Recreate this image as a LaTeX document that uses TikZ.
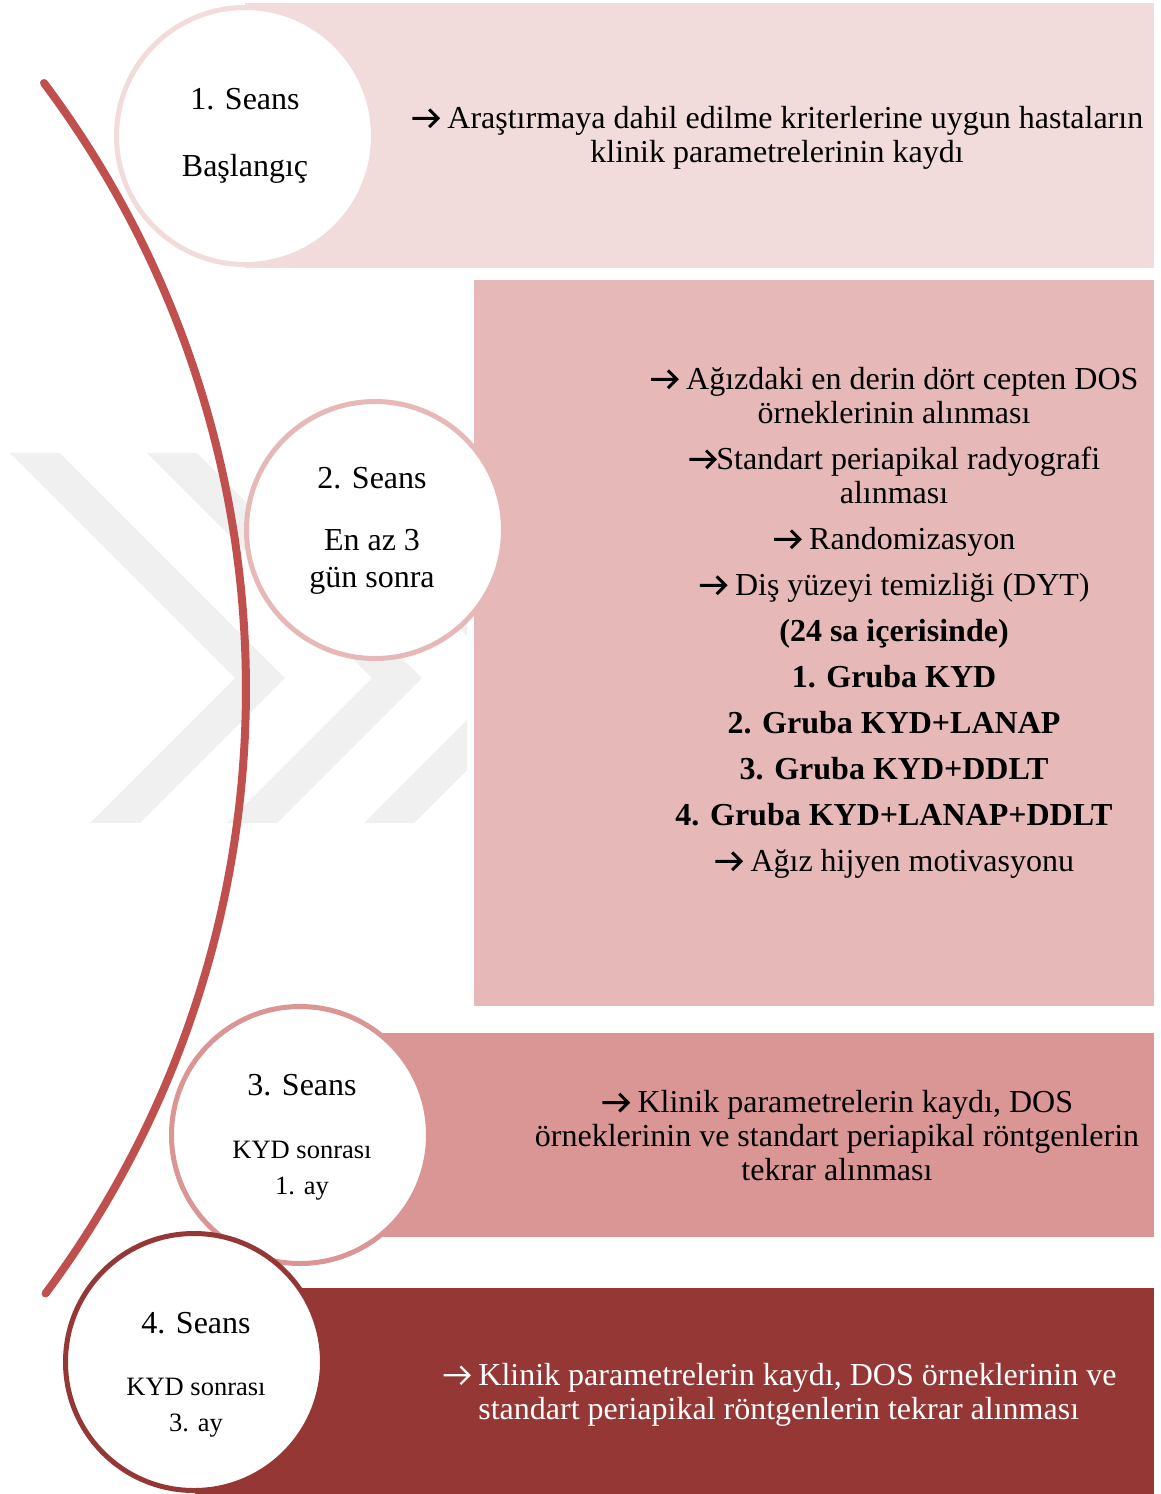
\documentclass[tikz,border=0pt]{standalone}
\usepackage{fontspec}
\setmainfont{Liberation Serif}
\usetikzlibrary{positioning}
\definecolor{seans1}{RGB}{242,220,219}
\definecolor{seans2}{RGB}{230,185,184}
\definecolor{seans3}{RGB}{217,150,148}
\definecolor{seans4}{RGB}{149,55,53}
\definecolor{yay}{RGB}{192,80,77}
\definecolor{filigran}{RGB}{240,240,240}
% arrow sign in front of the items
\newcommand{\sagok}[1][line width=1.5pt]{\tikz[baseline=0pt]\draw[#1, line join=miter]
  (0pt,5.2pt) -- (12.6pt,5.2pt) (8.4pt,9.6pt) -- (12.8pt,5.2pt) -- (8.4pt,0.8pt);}

\begin{document}
\begin{tikzpicture}[
    x=0.5pt, y=0.5pt,
    seans/.style={circle, fill=white, line width=2.5pt, minimum size=128.5pt, inner sep=0pt},
    metin/.style={font=\fontsize{16}{17}\selectfont, inner sep=0pt},
    kucuk/.style={font=\fontsize{13.25}{18}\selectfont, inner sep=0pt},
    timeline/.style={line width=4pt, line cap=round}
]
\useasboundingbox (0,0) rectangle (1161,-1494);

% Watermark
\begin{scope}
\clip (0,-453) rectangle (467,-823);
\foreach \d in {0,137,274}
  \fill[filigran] (10+\d,-453) -- (60+\d,-453) -- (285+\d,-678) -- (140+\d,-823)
     -- (90+\d,-823) -- (235+\d,-678) -- cycle;
\end{scope}

% Boxes
\fill[seans1] (245,-3) rectangle (1154,-268);
\fill[seans2] (474,-280) rectangle (1154,-1006);
\fill[seans3] (301,-1033) rectangle (1154,-1237);
\fill[seans4] (195,-1288) rectangle (1154,-1494);

% Sessions
\node[seans, draw=seans1] (s1) at (245,-136) {};
\node[seans, draw=seans2] (s2) at (375,-530) {};
\node[seans, draw=seans3] (s3) at (300,-1135) {};
\node[seans, draw=seans4] (s4) at (194,-1362) {};

\node[metin] (s1a) at (245,-99) {1. Seans};
\node[metin] (s1b) at (245,-169) {Başlangıç};

\node[metin] (s2a) at (372,-478) {2. Seans};
\node[metin, align=center, font=\fontsize{16}{18.5}\selectfont] (s2b) at (372,-562) {En az 3\\ gün sonra};

\node[metin] (s3a) at (302,-1085) {3. Seans};
\node[kucuk, align=center] (s3b) at (302,-1171) {KYD sonrası\\ 1. ay};

\node[metin] (s4a) at (196,-1323) {4. Seans};
\node[kucuk, align=center] (s4b) at (196,-1408) {KYD sonrası\\ 3. ay};

% Box texts
\node[metin, align=center] (k1) at (777,-138)
  {\sagok\ Araştırmaya dahil edilme kriterlerine uygun hastaların\\ klinik parametrelerinin kaydı};

\node[metin, align=center] (k2) at (894,-623)
  {\sagok\ Ağızdaki en derin dört cepten DOS\\ örneklerinin alınması\\[6pt]
   \sagok Standart periapikal radyografi\\ alınması\\[6pt]
   \sagok\ Randomizasyon\\[6pt]
   \sagok\ Diş yüzeyi temizliği (DYT)\\[6pt]
   \textbf{(24 sa içerisinde)}\\[6pt]
   \textbf{1. Gruba KYD}\\[6pt]
   \textbf{2. Gruba KYD+LANAP}\\[6pt]
   \textbf{3. Gruba KYD+DDLT}\\[6pt]
   \textbf{4. Gruba KYD+LANAP+DDLT}\\[6pt]
   \sagok\ Ağız hijyen motivasyonu};

\node[metin, align=center] (k3) at (837,-1136)
  {\sagok\ Klinik parametrelerin kaydı, DOS\\ örneklerinin ve standart periapikal röntgenlerin\\ tekrar alınması};

\node[metin, align=left, anchor=west, text=white] (k4) at (478,-1395)
  {\llap{\sagok[white, line width=1.1pt]\ }Klinik parametrelerin kaydı, DOS örneklerinin ve\\ standart periapikal röntgenlerin tekrar alınması};

% Curve
\draw[timeline, yay] (44,-83) arc[start angle=36.85, end angle=-36.7, radius=1011];
\end{tikzpicture}
\end{document}
